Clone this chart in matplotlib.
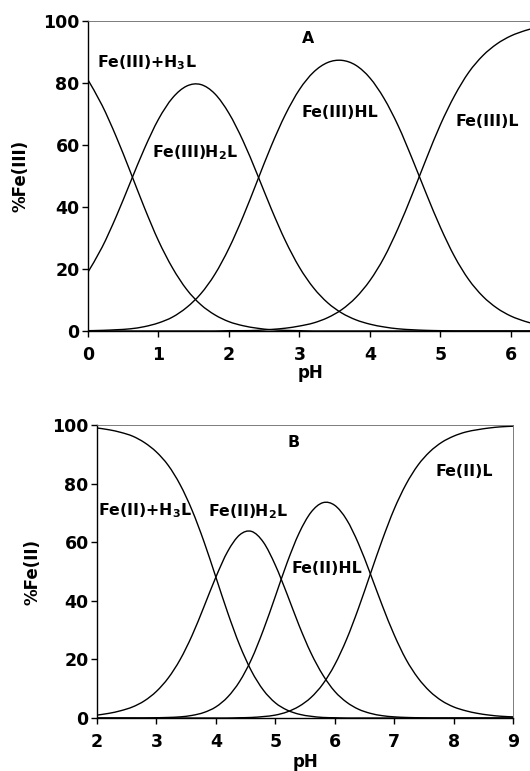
import matplotlib
matplotlib.use("Agg")
import matplotlib.pyplot as plt
from matplotlib.path import Path
from matplotlib.patches import PathPatch

plt.rcParams['font.family'] = ['DejaVu Sans']
plt.rcParams['font.weight'] = 'bold'
plt.rcParams['mathtext.fontset'] = 'custom'
plt.rcParams['mathtext.rm'] = 'DejaVu Sans:bold'
plt.rcParams['mathtext.bf'] = 'DejaVu Sans:bold'
plt.rcParams['mathtext.default'] = 'bf'

# panel A : Fe(III)
ph_a = [0.0, 0.2, 0.4, 0.6, 0.8, 1.0, 1.2, 1.4, 1.6, 1.8, 2.0, 2.2, 2.4, 2.6, 2.8, 3.0,
        3.2, 3.4, 3.6, 3.8, 4.0, 4.2, 4.4, 4.6, 4.8, 5.0, 5.2, 5.4, 5.6, 5.8, 6.0, 6.2, 6.3]
a_h3l = [81.0, 72.8, 62.7, 51.4, 39.8, 29.1, 20.3, 13.4, 8.5, 5.2, 3.0, 1.7, 0.9, 0.4, 0.2, 0.1,
         0.0, 0.0, 0.0, 0.0, 0.0, 0.0, 0.0, 0.0, 0.0, 0.0, 0.0, 0.0, 0.0, 0.0, 0.0, 0.0, 0.0]
a_h2l = [19.0, 27.0, 36.9, 47.9, 58.8, 68.3, 75.2, 79.0, 79.5, 76.5, 70.2, 61.3, 50.6, 39.4, 29.1, 20.5,
         13.9, 9.1, 5.8, 3.6, 2.2, 1.3, 0.7, 0.4, 0.2, 0.1, 0.0, 0.0, 0.0, 0.0, 0.0, 0.0, 0.0]
a_hl = [0.1, 0.2, 0.4, 0.7, 1.4, 2.6, 4.5, 7.6, 12.0, 18.3, 26.7, 36.9, 48.3, 59.7, 69.8, 77.9,
        83.5, 86.6, 87.3, 85.7, 81.6, 75.0, 66.2, 55.5, 44.2, 33.4, 24.0, 16.6, 11.2, 7.4, 4.8, 3.1, 2.5]
a_l = [0.0, 0.0, 0.0, 0.0, 0.0, 0.0, 0.0, 0.0, 0.0, 0.0, 0.1, 0.1, 0.2, 0.5, 0.9, 1.6,
       2.6, 4.3, 6.9, 10.8, 16.3, 23.7, 33.2, 44.1, 55.6, 66.6, 75.9, 83.4, 88.8, 92.6, 95.2, 96.9, 97.5]

# panel B : Fe(II)
ph_b = [2.0, 2.2, 2.4, 2.6, 2.8, 3.0, 3.2, 3.4, 3.6, 3.8, 4.0, 4.2, 4.4, 4.6, 4.8, 5.0, 5.2, 5.4,
        5.6, 5.8, 6.0, 6.2, 6.4, 6.6, 6.8, 7.0, 7.2, 7.4, 7.6, 7.8, 8.0, 8.2, 8.4, 8.6, 8.8, 9.0]
b_h3l = [99.0, 98.4, 97.5, 96.2, 94.0, 90.8, 86.2, 79.6, 70.9, 60.2, 48.1, 35.9, 24.9, 16.0, 9.5, 5.2, 2.7, 1.3,
         0.6, 0.2, 0.1, 0.0, 0.0, 0.0, 0.0, 0.0, 0.0, 0.0, 0.0, 0.0, 0.0, 0.0, 0.0, 0.0, 0.0, 0.0]
b_h2l = [1.0, 1.6, 2.5, 3.8, 5.9, 9.1, 13.7, 20.0, 28.2, 38.0, 48.1, 56.9, 62.5, 63.7, 60.0, 52.2, 42.2, 31.6,
         22.2, 14.7, 9.1, 5.4, 3.0, 1.6, 0.8, 0.4, 0.2, 0.1, 0.0, 0.0, 0.0, 0.0, 0.0, 0.0, 0.0, 0.0]
b_hl = [0.0, 0.0, 0.0, 0.0, 0.0, 0.1, 0.2, 0.4, 0.9, 1.9, 3.8, 7.2, 12.5, 20.1, 30.1, 41.5, 53.1, 63.1,
        70.2, 73.5, 72.6, 67.7, 59.5, 49.2, 38.4, 28.4, 20.0, 13.7, 9.1, 5.9, 3.8, 2.5, 1.6, 1.0, 0.6, 0.4]
b_l = [0.0, 0.0, 0.0, 0.0, 0.0, 0.0, 0.0, 0.0, 0.0, 0.0, 0.0, 0.0, 0.1, 0.2, 0.5, 1.0, 2.1, 4.0,
       7.0, 11.6, 18.2, 26.9, 37.5, 49.2, 60.8, 71.3, 79.8, 86.3, 90.9, 94.1, 96.2, 97.6, 98.4, 99.0, 99.4, 99.6]

fs_tick = 12.5
fs_lab = 12
fs_txt = 11.3


def smooth_line(ax, x, y):
    # catmull-rom through the read points, drawn as a bezier path
    pts = list(zip(x, y))
    verts = [pts[0]]
    codes = [Path.MOVETO]
    n = len(pts)
    for i in range(n - 1):
        p0 = pts[i - 1] if i > 0 else pts[i]
        p1 = pts[i]
        p2 = pts[i + 1]
        p3 = pts[i + 2] if i + 2 < n else pts[i + 1]
        c1 = (p1[0] + (p2[0] - p0[0]) / 6, p1[1] + (p2[1] - p0[1]) / 6)
        c2 = (p2[0] - (p3[0] - p1[0]) / 6, p2[1] - (p3[1] - p1[1]) / 6)
        verts += [c1, c2, p2]
        codes += [Path.CURVE4] * 3
    ax.add_patch(PathPatch(Path(verts, codes), facecolor='none', edgecolor='black', lw=1.0))


fig = plt.figure(figsize=(5.30, 7.71), dpi=100)
ax1 = fig.add_axes([0.166, 0.5707, 0.838, 0.4021])
ax2 = fig.add_axes([0.183, 0.0687, 0.785, 0.380])


def style(ax):
    for s in ['left', 'bottom']:
        ax.spines[s].set_linewidth(1.0)
        ax.spines[s].set_color('black')
    for s in ['top', 'right']:
        ax.spines[s].set_linewidth(0.6)
        ax.spines[s].set_color('#666666')
    ax.tick_params(direction='out', length=4, width=1, labelsize=fs_tick)
    ax.tick_params(axis='x', pad=7)
    ax.tick_params(axis='y', pad=2)


# panel A
for y in [a_h3l, a_h2l, a_hl, a_l]:
    smooth_line(ax1, ph_a, y)
ax1.set_xlim(0, 6.3)
ax1.set_ylim(0, 100)
ax1.set_xticks(range(0, 7))
ax1.set_yticks(range(0, 101, 20))
style(ax1)
ax1.set_xlabel('pH', fontsize=fs_lab, fontweight='bold', labelpad=0)
ax1.set_ylabel('%Fe(III)', fontsize=fs_lab, fontweight='bold', labelpad=10)
ax1.text(0.13, 86.5, r'Fe(III)+H$_3$L', fontsize=fs_txt, ha='left', va='center')
ax1.text(0.91, 57.4, r'Fe(III)H$_2$L', fontsize=fs_txt, ha='left', va='center')
ax1.text(3.03, 70.6, 'Fe(III)HL', fontsize=fs_txt, ha='left', va='center')
ax1.text(5.21, 67.5, 'Fe(III)L', fontsize=fs_txt, ha='left', va='center')
ax1.text(3.12, 94.2, 'A', fontsize=fs_txt, ha='center', va='center')

# panel B
for y in [b_h3l, b_h2l, b_hl, b_l]:
    smooth_line(ax2, ph_b, y)
ax2.set_xlim(2, 9)
ax2.set_ylim(0, 100)
ax2.set_xticks(range(2, 10))
ax2.set_yticks(range(0, 101, 20))
style(ax2)
ax2.set_xlabel('pH', fontsize=fs_lab, fontweight='bold', labelpad=1)
ax2.set_ylabel('%Fe(II)', fontsize=fs_lab, fontweight='bold', labelpad=8)
ax2.text(2.02, 70.7, r'Fe(II)+H$_3$L', fontsize=fs_txt, ha='left', va='center')
ax2.text(3.87, 70.3, r'Fe(II)H$_2$L', fontsize=fs_txt, ha='left', va='center')
ax2.text(5.28, 51.0, 'Fe(II)HL', fontsize=fs_txt, ha='left', va='center')
ax2.text(7.69, 84.0, 'Fe(II)L', fontsize=fs_txt, ha='left', va='center')
ax2.text(5.30, 93.9, 'B', fontsize=fs_txt, ha='center', va='center')

fig.savefig('out.png', dpi=100)
